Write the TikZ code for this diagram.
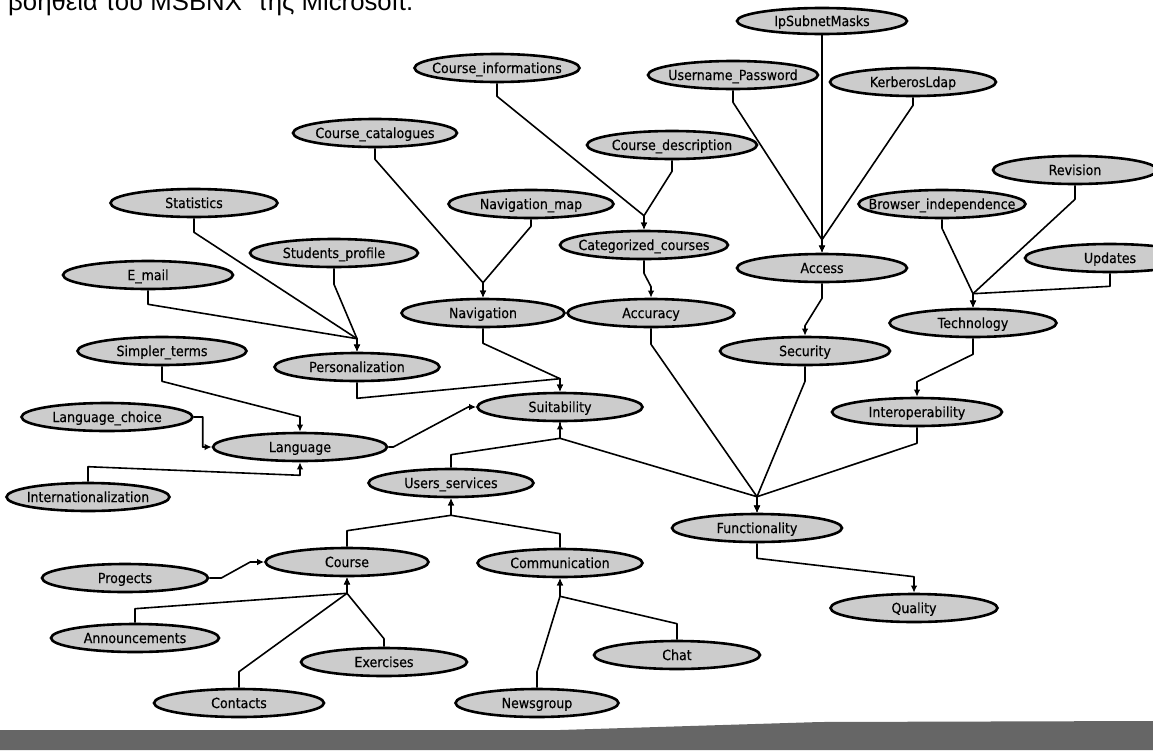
\documentclass[tikz,border=0pt]{standalone}
\usepackage{graphicx}
\usepackage{fontspec}
\setmainfont{DejaVu Sans}
\newfontfamily\nodefont[FakeStretch=0.9,FakeBold=0.4]{DejaVu Sans}
\newfontfamily\titlefont{Liberation Sans}
\usetikzlibrary{shapes.geometric,arrows.meta,calc}
\newcommand{\lbl}[1]{\makebox[0pt]{\raisebox{-0.36em}[0pt][0pt]{#1}}}
\begin{document}
\begin{tikzpicture}[x=1pt,y=-1pt,
  nd/.style={ellipse,draw=black,line width=2.6pt,fill=black!20,inner sep=0pt,
    minimum width=#1,minimum height=28pt,font=\nodefont\fontsize{14}{16}\selectfont},
  nd/.default=166pt,
  ln/.style={line width=1.6pt,line join=round},
  arr/.style={ln,-{Latex[length=7pt,width=6.5pt]}}]
\useasboundingbox (0,0) rectangle (1153,750);
\fill[white] (0,0) rectangle (1153,750);
\clip (0,0) rectangle (1153,750);

% title line (cut at the top)
\node[anchor=base west,inner sep=0pt,font=\titlefont] (title) at (8,10)
  {\resizebox{405pt}{!}{\fontsize{26}{30}\selectfont βοήθεια του MSBNX” της Microsoft.}};

% bottom bar
\fill[black!60] (0,730) -- (560,730) -- (820,722) -- (1153,721) -- (1153,750) -- (0,750) -- cycle;

% nodes
\node[nd=170pt,minimum height=26pt] (IpSub) at (822,21) {\lbl{IpSubnetMasks}};
\node[nd=170pt] (UserPw) at (733,75) {\lbl{Username\_Password}};
\node[nd=166pt] (Kerb) at (913,82) {\lbl{KerberosLdap}};
\node[nd=165pt] (CInfo) at (497,68) {\lbl{Course\_informations}};
\node[nd=164pt] (CCat) at (375,133) {\lbl{Course\_catalogues}};
\node[nd=170pt] (CDesc) at (672,145) {\lbl{Course\_description}};
\node[nd=167pt] (Stat) at (194,203) {\lbl{Statistics}};
\node[nd=165pt] (NavMap) at (531,204) {\lbl{Navigation\_map}};
\node[nd=164pt] (Rev) at (1075,170) {\lbl{Revision}};
\node[nd=167pt] (Browser) at (942,204) {\lbl{Browser\_independence}};
\node[nd=168pt] (SProf) at (334,253) {\lbl{Students\_profile}};
\node[nd=168pt] (CatC) at (644,245) {\lbl{Categorized\_courses}};
\node[nd=170pt] (Email) at (148,275) {\lbl{E\_mail}};
\node[nd=170pt] (Upd) at (1110,258) {\lbl{Updates}};
\node[nd=170pt] (Access) at (822,268) {\lbl{Access}};
\node[nd=163pt] (Nav) at (483,313) {\lbl{Navigation}};
\node[nd=167pt] (Acc) at (651,313) {\lbl{Accuracy}};
\node[nd=167pt] (Tech) at (973,323) {\lbl{Technology}};
\node[nd=165pt] (Pers) at (357,367) {\lbl{Personalization}};
\node[nd=169pt] (Simp) at (162,351) {\lbl{Simpler\_terms}};
\node[nd=170pt] (Sec) at (805,351) {\lbl{Security}};
\node[nd=165pt] (Suit) at (560,407) {\lbl{Suitability}};
\node[nd=170pt] (Interop) at (917,412) {\lbl{Interoperability}};
\node[nd=171pt] (LangC) at (107,417) {\lbl{Language\_choice}};
\node[nd=174pt] (Lang) at (300,447) {\lbl{Language}};
\node[nd=163pt] (Intl) at (88,497) {\lbl{Internationalization}};
\node[nd=165pt] (UServ) at (451,483) {\lbl{Users\_services}};
\node[nd=170pt] (Func) at (757,528) {\lbl{Functionality}};
\node[nd=163pt] (Course) at (347,562) {\lbl{Course}};
\node[nd=165pt] (Comm) at (560,563) {\lbl{Communication}};
\node[nd=166pt] (Prog) at (125,578) {\lbl{Progects}};
\node[nd=167pt] (Qual) at (914,608) {\lbl{Quality}};
\node[nd=168pt] (Ann) at (135,638) {\lbl{Announcements}};
\node[nd=166pt] (Exer) at (384,662) {\lbl{Exercises}};
\node[nd=166pt] (Chat) at (677,655) {\lbl{Chat}};
\node[nd=170pt] (Cont) at (239,703) {\lbl{Contacts}};
\node[nd=163pt] (News) at (537,703) {\lbl{Newsgroup}};

% junctions
\coordinate (jAccess) at ($(Access.north)+(0,13pt)$);
\coordinate (jCatC) at ($(CatC.north)+(0,14pt)$);
\coordinate (jNav) at ($(Nav.north)+(0,15pt)$);
\coordinate (jAcc) at ($(Acc.north)+(0,11pt)$);
\coordinate (jPers) at ($(Pers.north)+(0,13pt)$);
\coordinate (jSuitT) at ($(Suit.north)+(0,13pt)$);
\coordinate (jLangT) at ($(Lang.north)+(0,15pt)$);
\coordinate (jSec) at ($(Sec.north)+(0,10pt)$);
\coordinate (jTech) at ($(Tech.north)+(0,14pt)$);
\coordinate (jInter) at ($(Interop.north)+(0,15pt)$);
\coordinate (jFunc) at ($(Func.north)+(0,16pt)$);
\coordinate (jQual) at ($(Qual.north)+(0,16pt)$);
\coordinate (jSuitB) at ($(Suit.south)+(0,-16pt)$);
\coordinate (jUServB) at ($(UServ.south)+(0,-17pt)$);
\coordinate (jCourseB) at ($(Course.south)+(0,-16pt)$);
\coordinate (jCommB) at ($(Comm.south)+(0,-18pt)$);
\coordinate (jLangB) at ($(Lang.south)+(0,-13pt)$);
\coordinate (jLangL) at ($(Lang.west)+(-9pt,0)$);
\coordinate (jCourseL) at ($(Course.west)+(-14pt,0)$);
\coordinate (jSuitL) at ($(Suit.west)+(-8pt,0)$);

% connectors
\draw[arr] (IpSub.south) -- (jAccess) -- (Access.north);
\draw[arr] (UserPw.south) -- ++(0,-12pt) -- (jAccess) -- (Access.north);
\draw[arr] (Kerb.south) -- ++(0,-8pt) -- (jAccess) -- (Access.north);

\draw[arr] (CInfo.south) -- ++(0,-13pt) -- (jCatC) -- (CatC.north);
\draw[arr] (CDesc.south) -- ++(0,-11pt) -- (jCatC) -- (CatC.north);

\draw[arr] (CCat.south) -- ++(0,-11pt) -- (jNav) -- (Nav.north);
\draw[arr] (NavMap.south) -- ++(0,-7pt) -- (jNav) -- (Nav.north);

\draw[arr] (CatC.south) -- ++(0,-13pt) -- (jAcc) -- (Acc.north);
\draw[arr] (Access.south) -- ++(0,-15pt) -- (jSec) -- (Sec.north);

\draw[arr] (Browser.south) -- ++(0,-9pt) -- (jTech) -- (Tech.north);
\draw[arr] (Rev.south) -- ++(0,-14pt) -- (jTech) -- (Tech.north);
\draw[arr] (Upd.south) -- ++(0,-13pt) -- (jTech) -- (Tech.north);

\draw[arr] (Stat.south) -- ++(0,-14pt) -- (jPers) -- (Pers.north);
\draw[arr] (SProf.south) -- ++(0,-16pt) -- (jPers) -- (Pers.north);
\draw[arr] (Email.south) -- ++(0,-14pt) -- (jPers) -- (Pers.north);

\draw[arr] (Nav.south) -- ++(0,-15pt) -- (jSuitT) -- (Suit.north);
\draw[arr] (Pers.south) -- ++(0,-16pt) -- (jSuitT) -- (Suit.north);

\draw[arr] (Simp.south) -- ++(0,-15pt) -- (jLangT) -- (Lang.north);
\draw[arr] (LangC.east) -- ++(9pt,0) -- (jLangL) -- (Lang.west);
\draw[arr] (Intl.north) -- ++(0,15pt) -- (jLangB) -- (Lang.south);

\draw[arr] (Lang.east) -- ++(5pt,0) -- (jSuitL) -- (Suit.west);
\draw[arr] (UServ.north) -- ++(0,13pt) -- (jSuitB) -- (Suit.south);

\draw[arr] (Suit.south) -- (jSuitB) -- (jFunc) -- (Func.north);
\draw[arr] (Acc.south) -- ++(0,-16pt) -- (jFunc) -- (Func.north);
\draw[arr] (Sec.south) -- ++(0,-15pt) -- (jFunc) -- (Func.north);
\draw[arr] (Interop.south) -- ++(0,-16pt) -- (jFunc) -- (Func.north);
\draw[arr] (Tech.south) -- ++(0,-16pt) -- (jInter) -- (Interop.north);
\draw[arr] (Func.south) -- ++(0,-15pt) -- (jQual) -- (Qual.north);

\draw[arr] (Course.north) -- ++(0,16pt) -- (jUServB) -- (UServ.south);
\draw[arr] (Comm.north) -- ++(0,14pt) -- (jUServB) -- (UServ.south);

\draw[arr] (Prog.east) -- ++(12pt,0) -- (jCourseL) -- (Course.west);
\draw[arr] (Ann.north) -- ++(0,14pt) -- (jCourseB) -- (Course.south);
\draw[arr] (Exer.north) -- ++(0,8pt) -- (jCourseB) -- (Course.south);
\draw[arr] (Cont.north) -- ++(0,16pt) -- (jCourseB) -- (Course.south);

\draw[arr] (News.north) -- ++(0,16pt) -- (jCommB) -- (Comm.south);
\draw[arr] (Chat.north) -- ++(0,16pt) -- (jCommB) -- (Comm.south);
\end{tikzpicture}
\end{document}
